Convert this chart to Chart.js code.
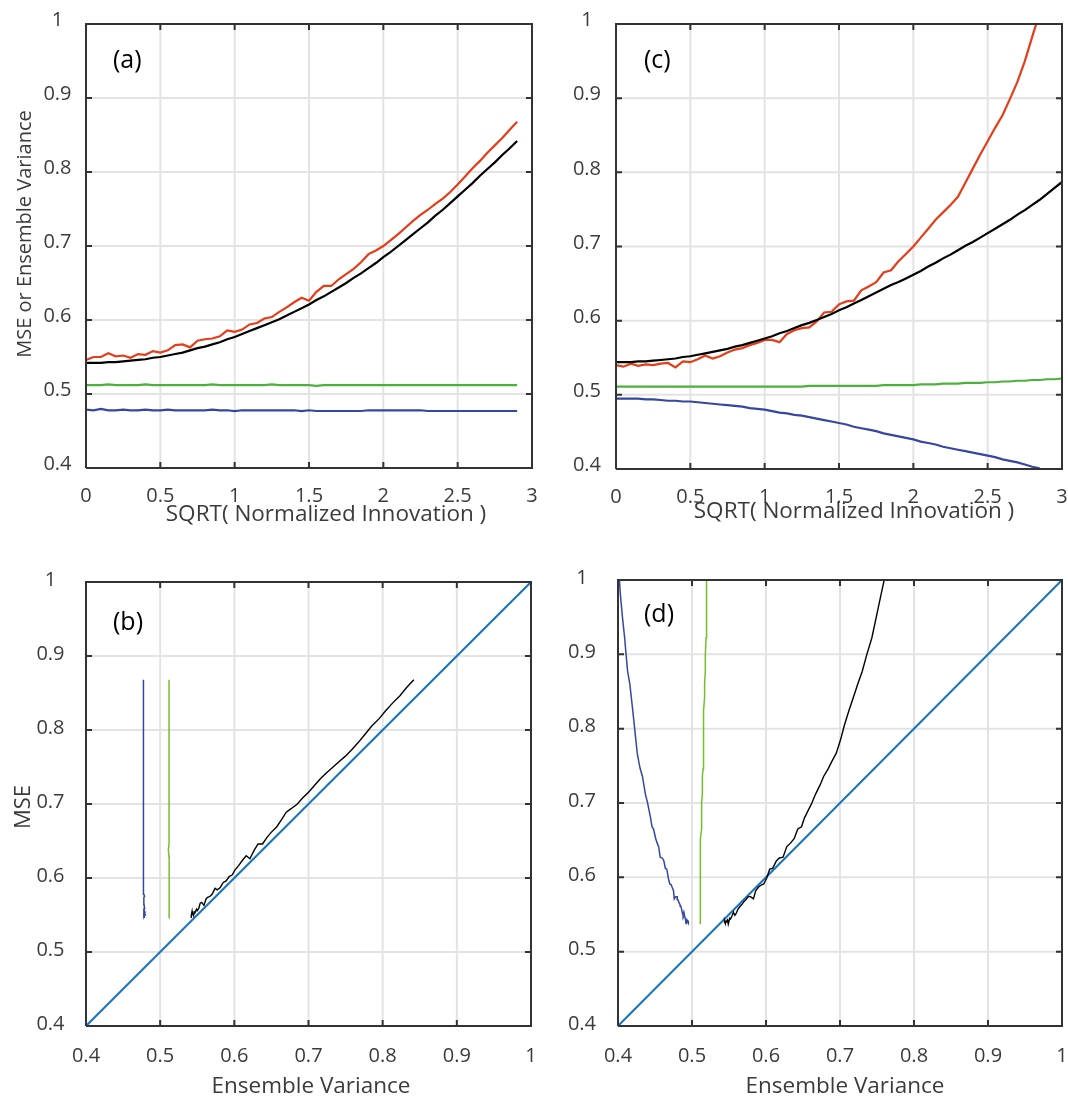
<!DOCTYPE html>
<html>
<head>
<meta charset="utf-8">
<script src="https://cdn.jsdelivr.net/npm/chart.js@4.4.1/dist/chart.umd.min.js"></script>
<style>
  html, body { margin: 0; padding: 0; background: #ffffff; }
  #wrap { position: relative; width: 1068px; height: 1101px; overflow: hidden; background: #ffffff; }
  #wrap canvas { position: absolute; }
</style>
</head>
<body>
<div id="wrap">
  <canvas id="panelA" width="544" height="550" style="left:0;top:0"></canvas>
  <canvas id="panelC" width="534" height="550" style="left:534px;top:0"></canvas>
  <canvas id="panelB" width="544" height="551" style="left:0;top:550px"></canvas>
  <canvas id="panelD" width="534" height="551" style="left:534px;top:550px"></canvas>
</div>
<script>
// ---------- Experiment 1 (panels a, b) ----------
const innovA = [0.00,0.05,0.10,0.15,0.20,0.25,0.30,0.35,0.40,0.45,
                0.50,0.55,0.60,0.65,0.70,0.75,0.80,0.85,0.90,0.95,
                1.00,1.05,1.10,1.15,1.20,1.25,1.30,1.35,1.40,1.45,
                1.50,1.55,1.60,1.65,1.70,1.75,1.80,1.85,1.90,1.95,
                2.00,2.05,2.10,2.15,2.20,2.25,2.30,2.35,2.40,2.45,
                2.50,2.55,2.60,2.65,2.70,2.75,2.80,2.85,2.90];
const mseA   = [0.546,0.550,0.550,0.555,0.551,0.552,0.549,0.554,0.553,0.558,
                0.556,0.559,0.566,0.567,0.563,0.572,0.574,0.575,0.578,0.586,
                0.584,0.587,0.594,0.596,0.602,0.604,0.611,0.617,0.624,0.630,
                0.626,0.638,0.646,0.646,0.655,0.662,0.669,0.678,0.689,0.694,
                0.700,0.708,0.716,0.725,0.734,0.742,0.749,0.757,0.764,0.773,
                0.783,0.794,0.805,0.815,0.826,0.836,0.846,0.857,0.868];
const varA   = [0.542,0.542,0.542,0.543,0.543,0.544,0.545,0.546,0.547,0.549,
                0.550,0.552,0.554,0.556,0.559,0.562,0.564,0.567,0.570,0.574,
                0.577,0.581,0.585,0.589,0.593,0.597,0.601,0.606,0.611,0.616,
                0.621,0.627,0.632,0.638,0.644,0.650,0.657,0.663,0.670,0.677,
                0.685,0.692,0.700,0.708,0.716,0.724,0.732,0.741,0.749,0.758,
                0.767,0.776,0.785,0.795,0.804,0.813,0.823,0.832,0.842];
const greenA = [0.512,0.512,0.512,0.513,0.512,0.512,0.512,0.512,0.513,0.512,
                0.512,0.512,0.512,0.512,0.512,0.512,0.512,0.513,0.512,0.512,
                0.512,0.512,0.512,0.512,0.512,0.513,0.512,0.512,0.512,0.512,
                0.512,0.511,0.512,0.512,0.512,0.512,0.512,0.512,0.512,0.512,
                0.512,0.512,0.512,0.512,0.512,0.512,0.512,0.512,0.512,0.512,
                0.512,0.512,0.512,0.512,0.512,0.512,0.512,0.512,0.512];
const blueA  = [0.479,0.478,0.480,0.478,0.478,0.479,0.478,0.478,0.479,0.478,
                0.478,0.479,0.478,0.478,0.478,0.478,0.478,0.479,0.478,0.478,
                0.477,0.478,0.478,0.478,0.478,0.478,0.478,0.478,0.478,0.477,
                0.478,0.477,0.477,0.477,0.477,0.477,0.477,0.477,0.478,0.478,
                0.478,0.478,0.478,0.478,0.478,0.478,0.477,0.477,0.477,0.477,
                0.477,0.477,0.477,0.477,0.477,0.477,0.477,0.477,0.477];

// ---------- Experiment 2 (panels c, d) ----------
const innovC = [0.00,0.05,0.10,0.15,0.20,0.25,0.30,0.35,0.40,0.45,
                0.50,0.55,0.60,0.65,0.70,0.75,0.80,0.85,0.90,0.95,
                1.00,1.05,1.10,1.15,1.20,1.25,1.30,1.35,1.40,1.45,
                1.50,1.55,1.60,1.65,1.70,1.75,1.80,1.85,1.90,1.95,
                2.00,2.05,2.10,2.15,2.20,2.25,2.30,2.35,2.40,2.45,
                2.50,2.55,2.60,2.65,2.70,2.75,2.80,2.85,2.90,2.95,3.00];
const mseC   = [0.540,0.538,0.542,0.539,0.541,0.540,0.542,0.543,0.537,0.545,
                0.544,0.548,0.553,0.549,0.552,0.557,0.561,0.563,0.567,0.570,
                0.574,0.574,0.571,0.582,0.587,0.590,0.591,0.599,0.611,0.612,
                0.622,0.626,0.627,0.641,0.646,0.652,0.665,0.668,0.680,0.690,
                0.700,0.712,0.724,0.736,0.746,0.756,0.767,0.786,0.805,0.824,
                0.842,0.860,0.877,0.899,0.922,0.950,0.983,1.015,null,null,null];
const varC   = [0.544,0.544,0.544,0.545,0.545,0.546,0.547,0.548,0.549,0.551,
                0.552,0.554,0.556,0.558,0.560,0.562,0.565,0.567,0.570,0.573,
                0.576,0.579,0.583,0.586,0.590,0.594,0.597,0.601,0.605,0.609,
                0.614,0.618,0.623,0.628,0.633,0.638,0.643,0.648,0.652,0.657,
                0.662,0.667,0.673,0.678,0.684,0.689,0.695,0.701,0.706,0.712,
                0.718,0.724,0.730,0.736,0.743,0.749,0.756,0.763,0.771,0.779,0.787];
const greenC = [0.511,0.511,0.511,0.511,0.511,0.511,0.511,0.511,0.511,0.511,
                0.511,0.511,0.511,0.511,0.511,0.511,0.511,0.511,0.511,0.511,
                0.511,0.511,0.511,0.511,0.511,0.511,0.512,0.512,0.512,0.512,
                0.512,0.512,0.512,0.512,0.512,0.512,0.513,0.513,0.513,0.513,
                0.513,0.514,0.514,0.514,0.515,0.515,0.515,0.516,0.516,0.516,
                0.517,0.517,0.518,0.518,0.519,0.519,0.520,0.520,0.521,0.521,0.522];
const blueC  = [0.495,0.495,0.495,0.495,0.494,0.494,0.493,0.492,0.492,0.491,
                0.491,0.490,0.489,0.488,0.487,0.486,0.485,0.484,0.482,0.481,
                0.480,0.478,0.476,0.475,0.473,0.472,0.470,0.468,0.466,0.464,
                0.462,0.460,0.457,0.455,0.453,0.451,0.448,0.446,0.444,0.442,
                0.440,0.437,0.435,0.433,0.430,0.428,0.426,0.424,0.422,0.420,
                0.418,0.416,0.413,0.411,0.409,0.406,0.403,0.401,null,null,null];

// one-to-one reference line for the MSE vs variance panels
const diagX = [0.4, 1.0];
const diagY = [0.4, 1.0];

// ---------- ticks ----------
const innovTicks      = [0, 0.5, 1, 1.5, 2, 2.5, 3];
const innovTickLabels = ['0', '0.5', '1', '1.5', '2', '2.5', '3'];
const valTicks        = [0.4, 0.5, 0.6, 0.7, 0.8, 0.9, 1];
const valTickLabels   = ['0.4', '0.5', '0.6', '0.7', '0.8', '0.9', '1'];
const valRange        = [0.4, 1];

// ---------- styling ----------
const FONT = "'Open Sans', sans-serif";
const TEXT_COLOR = '#3b3b3b';
const BOX_COLOR = '#333333';
const GRID_COLOR = '#e3e3e3';
const RED = '#e63c17';
const BLACK = '#000000';
const GREEN_TOP = '#4cb03c';
const GREEN_BOT = '#76bd2e';
const BLUE = '#3646a1';
const DIAG = '#1673be';
const TICK_PX = 6;    // inward tick mark length in pixels

function pairs(xs, ys) {
  const out = [];
  for (let i = 0; i < xs.length; i++) {
    if (xs[i] != null && ys[i] != null) out.push({ x: xs[i], y: ys[i] });
  }
  return out;
}

function line(data, color, width) {
  return { data, borderColor: color, borderWidth: width, showLine: true,
           pointRadius: 0, tension: 0 };
}

// Light grid: one full-height / full-width segment per tick value
function gridLines(xr, yr, xTicks, yTicks) {
  const pts = [];
  xTicks.forEach(v => { pts.push({ x: v, y: yr[0] }, { x: v, y: yr[1] }, { x: v, y: null }); });
  yTicks.forEach(v => { pts.push({ x: xr[0], y: v }, { x: xr[1], y: v }, { x: xr[1], y: null }); });
  return { data: pts, borderColor: GRID_COLOR, borderWidth: 2, showLine: true,
           pointRadius: 0, tension: 0, spanGaps: false };
}

// Axes box traced along the axis limits
function boxOutline(xr, yr) {
  return { data: [ { x: xr[0], y: yr[0] }, { x: xr[1], y: yr[0] }, { x: xr[1], y: yr[1] },
                   { x: xr[0], y: yr[1] }, { x: xr[0], y: yr[0] } ],
           borderColor: BOX_COLOR, borderWidth: 2, showLine: true, pointRadius: 0,
           tension: 0, clip: 4, borderJoinStyle: 'miter' };
}

// Inward tick marks on all four sides, one short segment per tick value
function tickMarks(xr, yr, xTicks, yTicks, wPx, hPx) {
  const dx = (xr[1] - xr[0]) * TICK_PX / wPx;
  const dy = (yr[1] - yr[0]) * TICK_PX / hPx;
  const pts = [];
  xTicks.forEach(v => {
    pts.push({ x: v, y: yr[0] }, { x: v, y: yr[0] + dy }, { x: v, y: null });
    pts.push({ x: v, y: yr[1] }, { x: v, y: yr[1] - dy }, { x: v, y: null });
  });
  yTicks.forEach(v => {
    pts.push({ x: xr[0], y: v }, { x: xr[0] + dx, y: v }, { x: xr[0] + dx, y: null });
    pts.push({ x: xr[1], y: v }, { x: xr[1] - dx, y: v }, { x: xr[1] - dx, y: null });
  });
  return { data: pts, borderColor: BOX_COLOR, borderWidth: 2, showLine: true,
           pointRadius: 0, tension: 0, spanGaps: false, clip: 4 };
}

// Axis titles and panel tags, keyed by canvas id
const panelText = {};

const textPlugin = {
  id: 'panelText',
  afterDraw(chart) {
    const o = panelText[chart.canvas.id];
    const ctx = chart.ctx;
    const ox = o.ox, oy = o.oy;
    ctx.save();
    ctx.fillStyle = TEXT_COLOR;
    ctx.textBaseline = 'alphabetic';
    if (o.xTitle) {
      ctx.font = o.xTitleSize + 'px ' + FONT;
      ctx.textAlign = 'center';
      ctx.fillText(o.xTitle, o.xTitleX - ox, o.xTitleY - oy);
    }
    if (o.yTitle) {
      ctx.save();
      ctx.font = o.yTitleSize + 'px ' + FONT;
      ctx.translate(o.yTitleX - ox, o.yTitleY - oy);
      ctx.rotate(-Math.PI / 2);
      ctx.textAlign = 'center';
      ctx.fillText(o.yTitle, 0, 0);
      ctx.restore();
    }
    if (o.tag) {
      ctx.fillStyle = '#000000';
      ctx.font = '25px ' + FONT;
      ctx.textAlign = 'left';
      ctx.fillText(o.tag, o.tagX - ox, o.tagY - oy);
    }
    ctx.restore();
  }
};

const Y_W = 70;   // reserved width of the value axis
const X_H = 44;   // reserved height of the bottom axis

// area is given in page coordinates; origin is the canvas' page offset
function panel(id, origin, area, xr, xTicks, xLabels, series, text, yPad, xPad, yShift) {
  const cv = document.getElementById(id);
  text.ox = origin[0];
  text.oy = origin[1];
  panelText[id] = text;
  const left = area.left - origin[0], right = area.right - origin[0];
  const top = area.top - origin[1], bottom = area.bottom - origin[1];
  // first dataset is drawn on top: box and ticks, then the series, grid underneath
  const datasets = [ boxOutline(xr, valRange),
                     tickMarks(xr, valRange, xTicks, valTicks, right - left, bottom - top) ]
                   .concat(series)
                   .concat([ gridLines(xr, valRange, xTicks, valTicks) ]);
  return new Chart(cv, {
    type: 'scatter',
    data: { datasets },
    plugins: [textPlugin],
    options: {
      responsive: false,
      animation: false,
      events: [],
      layout: { padding: {
        left: left - Y_W,
        right: cv.width - right,
        top: top,
        bottom: cv.height - bottom - X_H
      } },
      plugins: { legend: { display: false }, tooltip: { enabled: false } },
      scales: {
        x: {
          type: 'linear', min: xr[0], max: xr[1],
          afterBuildTicks: s => { s.ticks = xTicks.map(v => ({ value: v })); },
          afterFit: s => { s.height = X_H; s.paddingLeft = 0; s.paddingRight = 0; },
          ticks: { font: { family: FONT, size: 20 }, color: TEXT_COLOR, padding: xPad,
                   maxRotation: 0, autoSkip: false,
                   callback: (v, i) => xLabels[i] },
          grid: { display: false },
          border: { display: false }
        },
        y: {
          type: 'linear', min: valRange[0], max: valRange[1],
          afterBuildTicks: s => { s.ticks = valTicks.map(v => ({ value: v })); },
          afterFit: s => { s.width = Y_W; s.paddingTop = 0; s.paddingBottom = 0; },
          ticks: { font: { family: FONT, size: 20 }, color: TEXT_COLOR, padding: yPad,
                   crossAlign: 'center', labelOffset: yShift, autoSkip: false,
                   callback: (v, i) => valTickLabels[i] },
          grid: { display: false },
          border: { display: false }
        }
      }
    }
  });
}

// (a) statistics against innovation size, experiment 1
panel('panelA', [0, 0], { left: 86, right: 532, top: 24, bottom: 468 }, [0, 3],
  innovTicks, innovTickLabels,
  [ line(pairs(innovA, varA), BLACK, 2.2),
    line(pairs(innovA, mseA), RED, 2.2),
    line(pairs(innovA, greenA), GREEN_TOP, 2.2),
    line(pairs(innovA, blueA), BLUE, 2.2) ],
  { tag: '(a)', tagX: 113, tagY: 68,
    xTitle: 'SQRT( Normalized Innovation )', xTitleSize: 22.5, xTitleX: 326, xTitleY: 521,
    yTitle: 'MSE or Ensemble Variance', yTitleSize: 20, yTitleX: 31, yTitleY: 234 },
  6.5, 8, -3.5);

// (c) statistics against innovation size, experiment 2
panel('panelC', [534, 0], { left: 616, right: 1062, top: 24, bottom: 469 }, [0, 3],
  innovTicks, innovTickLabels,
  [ line(pairs(innovC, varC), BLACK, 2.2),
    line(pairs(innovC, mseC), RED, 2.2),
    line(pairs(innovC, greenC), GREEN_TOP, 2.2),
    line(pairs(innovC, blueC), BLUE, 2.2) ],
  { tag: '(c)', tagX: 644, tagY: 68,
    xTitle: 'SQRT( Normalized Innovation )', xTitleSize: 22.5, xTitleX: 854, xTitleY: 518 },
  7, 8, -3.5);

// (b) MSE against ensemble variance, experiment 1
panel('panelB', [0, 550], { left: 86, right: 531, top: 582, bottom: 1026 }, [0.4, 1],
  valTicks, valTickLabels,
  [ line(pairs(varA, mseA), BLACK, 1.4),
    line(pairs(blueA, mseA), BLUE, 1.5),
    line(pairs(greenA, mseA), GREEN_BOT, 1.5),
    line(pairs(diagX, diagY), DIAG, 2) ],
  { tag: '(b)', tagX: 113, tagY: 630,
    xTitle: 'Ensemble Variance', xTitleSize: 22.5, xTitleX: 311, xTitleY: 1093,
    yTitle: 'MSE', yTitleSize: 22, yTitleX: 30, yTitleY: 807 },
  13.5, 10, -2);

// (d) MSE against ensemble variance, experiment 2
panel('panelD', [534, 550], { left: 618, right: 1062, top: 580, bottom: 1026 }, [0.4, 1],
  valTicks, valTickLabels,
  [ line(pairs(varC, mseC), BLACK, 1.4),
    line(pairs(blueC, mseC), BLUE, 1.5),
    line(pairs(greenC, mseC), GREEN_BOT, 1.5),
    line(pairs(diagX, diagY), DIAG, 2) ],
  { tag: '(d)', tagX: 644, tagY: 622,
    xTitle: 'Ensemble Variance', xTitleSize: 22.5, xTitleX: 845, xTitleY: 1093 },
  14, 10, -2);
</script>
</body>
</html>
